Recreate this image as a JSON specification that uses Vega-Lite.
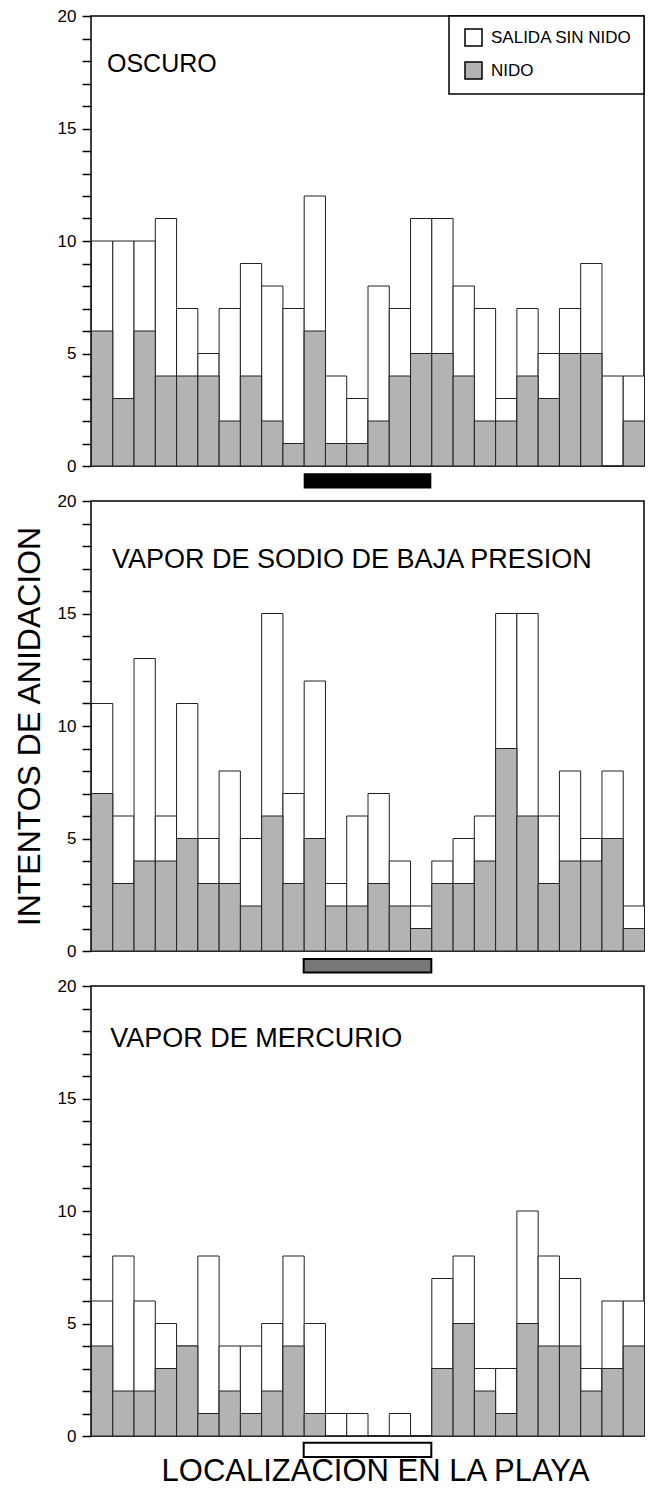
{
  "$schema": "https://vega.github.io/schema/vega-lite/v6.json",
  "padding": {"left": 12, "top": 6, "right": 0, "bottom": 0},
  "bounds": "flush",
  "spacing": 35,
  "datasets": {
    "barras": [
      {"panel": "OSCURO", "loc": 1, "total": 10, "nido": 6},
      {"panel": "OSCURO", "loc": 2, "total": 10, "nido": 3},
      {"panel": "OSCURO", "loc": 3, "total": 10, "nido": 6},
      {"panel": "OSCURO", "loc": 4, "total": 11, "nido": 4},
      {"panel": "OSCURO", "loc": 5, "total": 7, "nido": 4},
      {"panel": "OSCURO", "loc": 6, "total": 5, "nido": 4},
      {"panel": "OSCURO", "loc": 7, "total": 7, "nido": 2},
      {"panel": "OSCURO", "loc": 8, "total": 9, "nido": 4},
      {"panel": "OSCURO", "loc": 9, "total": 8, "nido": 2},
      {"panel": "OSCURO", "loc": 10, "total": 7, "nido": 1},
      {"panel": "OSCURO", "loc": 11, "total": 12, "nido": 6},
      {"panel": "OSCURO", "loc": 12, "total": 4, "nido": 1},
      {"panel": "OSCURO", "loc": 13, "total": 3, "nido": 1},
      {"panel": "OSCURO", "loc": 14, "total": 8, "nido": 2},
      {"panel": "OSCURO", "loc": 15, "total": 7, "nido": 4},
      {"panel": "OSCURO", "loc": 16, "total": 11, "nido": 5},
      {"panel": "OSCURO", "loc": 17, "total": 11, "nido": 5},
      {"panel": "OSCURO", "loc": 18, "total": 8, "nido": 4},
      {"panel": "OSCURO", "loc": 19, "total": 7, "nido": 2},
      {"panel": "OSCURO", "loc": 20, "total": 3, "nido": 2},
      {"panel": "OSCURO", "loc": 21, "total": 7, "nido": 4},
      {"panel": "OSCURO", "loc": 22, "total": 5, "nido": 3},
      {"panel": "OSCURO", "loc": 23, "total": 7, "nido": 5},
      {"panel": "OSCURO", "loc": 24, "total": 9, "nido": 5},
      {"panel": "OSCURO", "loc": 25, "total": 4, "nido": 0},
      {"panel": "OSCURO", "loc": 26, "total": 4, "nido": 2},
      {"panel": "SODIO", "loc": 1, "total": 11, "nido": 7},
      {"panel": "SODIO", "loc": 2, "total": 6, "nido": 3},
      {"panel": "SODIO", "loc": 3, "total": 13, "nido": 4},
      {"panel": "SODIO", "loc": 4, "total": 6, "nido": 4},
      {"panel": "SODIO", "loc": 5, "total": 11, "nido": 5},
      {"panel": "SODIO", "loc": 6, "total": 5, "nido": 3},
      {"panel": "SODIO", "loc": 7, "total": 8, "nido": 3},
      {"panel": "SODIO", "loc": 8, "total": 5, "nido": 2},
      {"panel": "SODIO", "loc": 9, "total": 15, "nido": 6},
      {"panel": "SODIO", "loc": 10, "total": 7, "nido": 3},
      {"panel": "SODIO", "loc": 11, "total": 12, "nido": 5},
      {"panel": "SODIO", "loc": 12, "total": 3, "nido": 2},
      {"panel": "SODIO", "loc": 13, "total": 6, "nido": 2},
      {"panel": "SODIO", "loc": 14, "total": 7, "nido": 3},
      {"panel": "SODIO", "loc": 15, "total": 4, "nido": 2},
      {"panel": "SODIO", "loc": 16, "total": 2, "nido": 1},
      {"panel": "SODIO", "loc": 17, "total": 4, "nido": 3},
      {"panel": "SODIO", "loc": 18, "total": 5, "nido": 3},
      {"panel": "SODIO", "loc": 19, "total": 6, "nido": 4},
      {"panel": "SODIO", "loc": 20, "total": 15, "nido": 9},
      {"panel": "SODIO", "loc": 21, "total": 15, "nido": 6},
      {"panel": "SODIO", "loc": 22, "total": 6, "nido": 3},
      {"panel": "SODIO", "loc": 23, "total": 8, "nido": 4},
      {"panel": "SODIO", "loc": 24, "total": 5, "nido": 4},
      {"panel": "SODIO", "loc": 25, "total": 8, "nido": 5},
      {"panel": "SODIO", "loc": 26, "total": 2, "nido": 1},
      {"panel": "MERCURIO", "loc": 1, "total": 6, "nido": 4},
      {"panel": "MERCURIO", "loc": 2, "total": 8, "nido": 2},
      {"panel": "MERCURIO", "loc": 3, "total": 6, "nido": 2},
      {"panel": "MERCURIO", "loc": 4, "total": 5, "nido": 3},
      {"panel": "MERCURIO", "loc": 5, "total": 4, "nido": 4},
      {"panel": "MERCURIO", "loc": 6, "total": 8, "nido": 1},
      {"panel": "MERCURIO", "loc": 7, "total": 4, "nido": 2},
      {"panel": "MERCURIO", "loc": 8, "total": 4, "nido": 1},
      {"panel": "MERCURIO", "loc": 9, "total": 5, "nido": 2},
      {"panel": "MERCURIO", "loc": 10, "total": 8, "nido": 4},
      {"panel": "MERCURIO", "loc": 11, "total": 5, "nido": 1},
      {"panel": "MERCURIO", "loc": 12, "total": 1, "nido": 0},
      {"panel": "MERCURIO", "loc": 13, "total": 1, "nido": 0},
      {"panel": "MERCURIO", "loc": 14, "total": 0, "nido": 0},
      {"panel": "MERCURIO", "loc": 15, "total": 1, "nido": 0},
      {"panel": "MERCURIO", "loc": 16, "total": 0, "nido": 0},
      {"panel": "MERCURIO", "loc": 17, "total": 7, "nido": 3},
      {"panel": "MERCURIO", "loc": 18, "total": 8, "nido": 5},
      {"panel": "MERCURIO", "loc": 19, "total": 3, "nido": 2},
      {"panel": "MERCURIO", "loc": 20, "total": 3, "nido": 1},
      {"panel": "MERCURIO", "loc": 21, "total": 10, "nido": 5},
      {"panel": "MERCURIO", "loc": 22, "total": 8, "nido": 4},
      {"panel": "MERCURIO", "loc": 23, "total": 7, "nido": 4},
      {"panel": "MERCURIO", "loc": 24, "total": 3, "nido": 2},
      {"panel": "MERCURIO", "loc": 25, "total": 6, "nido": 3},
      {"panel": "MERCURIO", "loc": 26, "total": 6, "nido": 4}
    ],
    "zonas": [
      {"panel": "OSCURO", "titulo": "OSCURO", "desde": 11, "hasta": 17},
      {"panel": "SODIO", "titulo": "VAPOR DE SODIO DE BAJA PRESION", "desde": 11, "hasta": 17},
      {"panel": "MERCURIO", "titulo": "VAPOR DE MERCURIO", "desde": 11, "hasta": 17}
    ]
  },
  "resolve": {"scale": {"fill": "independent"}, "legend": {"fill": "independent"}},
  "vconcat": [
    {
      "width": 553, "height": 450,
      "layer": [
        {
          "data": {"name": "barras"},
          "transform": [{"filter": "datum.panel === 'OSCURO'"}],
          "mark": {"type": "bar", "binSpacing": 0, "stroke": "#222", "strokeWidth": 1},
          "encoding": {
            "x": {"field": "loc", "type": "quantitative", "bin": {"binned": true, "step": 1}, "scale": {"domain": [1, 27], "nice": false, "zero": false}, "axis": null},
            "y": {"field": "total", "type": "quantitative", "scale": {"domain": [0, 20], "nice": false},
                  "axis": {"title": null, "format": "d", "tickCount": 40, "values": [0,1,2,3,4,5,6,7,8,9,10,11,12,13,14,15,16,17,18,19,20], "labelExpr": "datum.value % 5 === 0 ? datum.label : ''", "labelOverlap": false}},
            "fill": {"datum": "SALIDA SIN NIDO", "type": "nominal",
                     "scale": {"domain": ["SALIDA SIN NIDO", "NIDO"], "range": ["#ffffff", "#b3b3b3"]},
                     "legend": {"title": null, "orient": "top-right", "offset": 0}}
          }
        },
        {
          "data": {"name": "barras"},
          "transform": [{"filter": "datum.panel === 'OSCURO'"}],
          "mark": {"type": "bar", "binSpacing": 0, "stroke": "#222", "strokeWidth": 1},
          "encoding": {
            "x": {"field": "loc", "type": "quantitative", "bin": {"binned": true, "step": 1}, "axis": null},
            "y": {"field": "nido", "type": "quantitative",
                  "axis": {"title": null, "format": "d", "tickCount": 40, "values": [0,1,2,3,4,5,6,7,8,9,10,11,12,13,14,15,16,17,18,19,20], "labelExpr": "datum.value % 5 === 0 ? datum.label : ''", "labelOverlap": false}},
            "fill": {"datum": "NIDO", "type": "nominal"}
          }
        },
        {
          "data": {"name": "zonas"},
          "transform": [{"filter": "datum.panel === 'OSCURO'"}],
          "mark": {"type": "rect", "fill": "#000000"},
          "encoding": {
            "x": {"field": "desde", "type": "quantitative", "axis": null},
            "x2": {"field": "hasta"},
            "y": {"datum": -0.32, "type": "quantitative",
                  "axis": {"title": null, "format": "d", "tickCount": 40, "values": [0,1,2,3,4,5,6,7,8,9,10,11,12,13,14,15,16,17,18,19,20], "labelExpr": "datum.value % 5 === 0 ? datum.label : ''", "labelOverlap": false}},
            "y2": {"datum": -1.0}
          }
        },
        {
          "data": {"name": "zonas"},
          "transform": [{"filter": "datum.panel === 'OSCURO'"}],
          "mark": {"type": "text", "align": "left", "baseline": "alphabetic", "fontSize": 25, "color": "#000000"},
          "encoding": {
            "text": {"field": "titulo"},
            "x": {"datum": 1.75, "type": "quantitative", "axis": null},
            "y": {"datum": 17.5, "type": "quantitative",
                  "axis": {"title": null, "format": "d", "tickCount": 40, "values": [0,1,2,3,4,5,6,7,8,9,10,11,12,13,14,15,16,17,18,19,20], "labelExpr": "datum.value % 5 === 0 ? datum.label : ''", "labelOverlap": false}}
          }
        }
      ]
    },
    {
      "width": 553, "height": 450,
      "layer": [
        {
          "data": {"name": "barras"},
          "transform": [{"filter": "datum.panel === 'SODIO'"}],
          "mark": {"type": "bar", "binSpacing": 0, "stroke": "#222", "strokeWidth": 1},
          "encoding": {
            "x": {"field": "loc", "type": "quantitative", "bin": {"binned": true, "step": 1}, "scale": {"domain": [1, 27], "nice": false, "zero": false}, "axis": null},
            "y": {"field": "total", "type": "quantitative", "scale": {"domain": [0, 20], "nice": false},
                  "axis": {"title": "INTENTOS DE ANIDACION", "titleFontSize": 32, "titleFontWeight": "normal", "titlePadding": 11, "format": "d", "tickCount": 40, "values": [0,1,2,3,4,5,6,7,8,9,10,11,12,13,14,15,16,17,18,19,20], "labelExpr": "datum.value % 5 === 0 ? datum.label : ''", "labelOverlap": false}},
            "fill": {"datum": "SALIDA SIN NIDO", "type": "nominal",
                     "scale": {"domain": ["SALIDA SIN NIDO", "NIDO"], "range": ["#ffffff", "#b3b3b3"]},
                     "legend": null}
          }
        },
        {
          "data": {"name": "barras"},
          "transform": [{"filter": "datum.panel === 'SODIO'"}],
          "mark": {"type": "bar", "binSpacing": 0, "stroke": "#222", "strokeWidth": 1},
          "encoding": {
            "x": {"field": "loc", "type": "quantitative", "bin": {"binned": true, "step": 1}, "axis": null},
            "y": {"field": "nido", "type": "quantitative",
                  "axis": {"title": "INTENTOS DE ANIDACION", "titleFontSize": 32, "titleFontWeight": "normal", "titlePadding": 11, "format": "d", "tickCount": 40, "values": [0,1,2,3,4,5,6,7,8,9,10,11,12,13,14,15,16,17,18,19,20], "labelExpr": "datum.value % 5 === 0 ? datum.label : ''", "labelOverlap": false}},
            "fill": {"datum": "NIDO", "type": "nominal", "legend": null}
          }
        },
        {
          "data": {"name": "zonas"},
          "transform": [{"filter": "datum.panel === 'SODIO'"}],
          "mark": {"type": "rect", "fill": "#777777", "stroke": "#000000", "strokeWidth": 2},
          "encoding": {
            "x": {"field": "desde", "type": "quantitative", "axis": null},
            "x2": {"field": "hasta"},
            "y": {"datum": -0.35, "type": "quantitative",
                  "axis": {"title": "INTENTOS DE ANIDACION", "titleFontSize": 32, "titleFontWeight": "normal", "titlePadding": 11, "format": "d", "tickCount": 40, "values": [0,1,2,3,4,5,6,7,8,9,10,11,12,13,14,15,16,17,18,19,20], "labelExpr": "datum.value % 5 === 0 ? datum.label : ''", "labelOverlap": false}},
            "y2": {"datum": -0.95}
          }
        },
        {
          "data": {"name": "zonas"},
          "transform": [{"filter": "datum.panel === 'SODIO'"}],
          "mark": {"type": "text", "align": "left", "baseline": "alphabetic", "fontSize": 27, "color": "#000000"},
          "encoding": {
            "text": {"field": "titulo"},
            "x": {"datum": 1.99, "type": "quantitative", "axis": null},
            "y": {"datum": 17.03, "type": "quantitative",
                  "axis": {"title": "INTENTOS DE ANIDACION", "titleFontSize": 32, "titleFontWeight": "normal", "titlePadding": 11, "format": "d", "tickCount": 40, "values": [0,1,2,3,4,5,6,7,8,9,10,11,12,13,14,15,16,17,18,19,20], "labelExpr": "datum.value % 5 === 0 ? datum.label : ''", "labelOverlap": false}}
          }
        }
      ]
    },
    {
      "width": 553, "height": 450,
      "layer": [
        {
          "data": {"name": "barras"},
          "transform": [{"filter": "datum.panel === 'MERCURIO'"}],
          "mark": {"type": "bar", "binSpacing": 0, "stroke": "#222", "strokeWidth": 1},
          "encoding": {
            "x": {"field": "loc", "type": "quantitative", "bin": {"binned": true, "step": 1}, "scale": {"domain": [1, 27], "nice": false, "zero": false},
                  "axis": {"title": "LOCALIZACION EN LA PLAYA", "labels": false, "ticks": false, "domain": false, "grid": false, "titleFontSize": 31, "titleFontWeight": "normal", "titlePadding": 20, "titleX": 284}},
            "y": {"field": "total", "type": "quantitative", "scale": {"domain": [0, 20], "nice": false},
                  "axis": {"title": null, "format": "d", "tickCount": 40, "values": [0,1,2,3,4,5,6,7,8,9,10,11,12,13,14,15,16,17,18,19,20], "labelExpr": "datum.value % 5 === 0 ? datum.label : ''", "labelOverlap": false}},
            "fill": {"datum": "SALIDA SIN NIDO", "type": "nominal",
                     "scale": {"domain": ["SALIDA SIN NIDO", "NIDO"], "range": ["#ffffff", "#b3b3b3"]},
                     "legend": null}
          }
        },
        {
          "data": {"name": "barras"},
          "transform": [{"filter": "datum.panel === 'MERCURIO'"}],
          "mark": {"type": "bar", "binSpacing": 0, "stroke": "#222", "strokeWidth": 1},
          "encoding": {
            "x": {"field": "loc", "type": "quantitative", "bin": {"binned": true, "step": 1},
                  "axis": {"title": "LOCALIZACION EN LA PLAYA", "labels": false, "ticks": false, "domain": false, "grid": false, "titleFontSize": 31, "titleFontWeight": "normal", "titlePadding": 20, "titleX": 284}},
            "y": {"field": "nido", "type": "quantitative",
                  "axis": {"title": null, "format": "d", "tickCount": 40, "values": [0,1,2,3,4,5,6,7,8,9,10,11,12,13,14,15,16,17,18,19,20], "labelExpr": "datum.value % 5 === 0 ? datum.label : ''", "labelOverlap": false}},
            "fill": {"datum": "NIDO", "type": "nominal", "legend": null}
          }
        },
        {
          "data": {"name": "zonas"},
          "transform": [{"filter": "datum.panel === 'MERCURIO'"}],
          "mark": {"type": "rect", "fill": "#ffffff", "stroke": "#000000", "strokeWidth": 2},
          "encoding": {
            "x": {"field": "desde", "type": "quantitative",
                  "axis": {"title": "LOCALIZACION EN LA PLAYA", "labels": false, "ticks": false, "domain": false, "grid": false, "titleFontSize": 31, "titleFontWeight": "normal", "titlePadding": 20, "titleX": 284}},
            "x2": {"field": "hasta"},
            "y": {"datum": -0.3, "type": "quantitative",
                  "axis": {"title": null, "format": "d", "tickCount": 40, "values": [0,1,2,3,4,5,6,7,8,9,10,11,12,13,14,15,16,17,18,19,20], "labelExpr": "datum.value % 5 === 0 ? datum.label : ''", "labelOverlap": false}},
            "y2": {"datum": -0.93}
          }
        },
        {
          "data": {"name": "zonas"},
          "transform": [{"filter": "datum.panel === 'MERCURIO'"}],
          "mark": {"type": "text", "align": "left", "baseline": "alphabetic", "fontSize": 27, "color": "#000000"},
          "encoding": {
            "text": {"field": "titulo"},
            "x": {"datum": 1.9, "type": "quantitative",
                  "axis": {"title": "LOCALIZACION EN LA PLAYA", "labels": false, "ticks": false, "domain": false, "grid": false, "titleFontSize": 31, "titleFontWeight": "normal", "titlePadding": 20, "titleX": 284}},
            "y": {"datum": 17.3, "type": "quantitative",
                  "axis": {"title": null, "format": "d", "tickCount": 40, "values": [0,1,2,3,4,5,6,7,8,9,10,11,12,13,14,15,16,17,18,19,20], "labelExpr": "datum.value % 5 === 0 ? datum.label : ''", "labelOverlap": false}}
          }
        }
      ]
    }
  ],
  "config": {
    "font": "Liberation Sans",
    "view": {"stroke": "#000000", "strokeWidth": 1.5},
    "axis": {"labelColor": "#000000", "titleColor": "#000000", "labelFontSize": 17, "labelPadding": 6, "tickSize": 9, "tickWidth": 1.5, "tickColor": "#000000", "domain": false, "grid": false},
    "legend": {"strokeColor": "#000000", "strokeWidth": 1.5, "fillColor": "#ffffff", "padding": 12, "symbolOffset": 3, "symbolType": "square", "symbolSize": 289, "symbolStrokeColor": "#000000", "symbolStrokeWidth": 1.5, "labelFontSize": 17, "labelColor": "#000000", "labelOffset": 8, "rowPadding": 10, "labelLimit": 300}
  }
}
